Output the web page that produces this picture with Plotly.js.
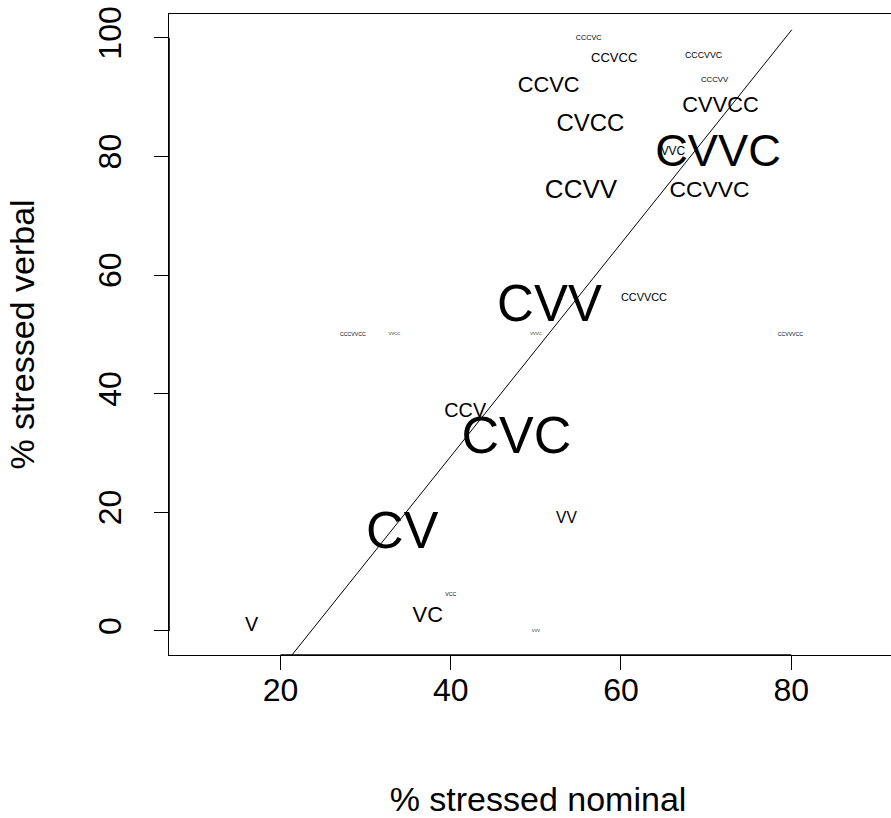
<!DOCTYPE html>
<html>
<head>
<meta charset="utf-8">
<script src="https://cdn.plot.ly/plotly-3.0.1.min.js"></script>
<style>
html,body{margin:0;padding:0;overflow:hidden;background:#fff;}
#chart{width:907px;height:818px;}
</style>
</head>
<body>
<div id="chart"></div>
<script>
// syllable structure labels
const labels = ["CCCVC","CCVCC","CCCVVC","CCCVV","CCVC","CVVCC","CVCC","CVVC","VVC","CCVV","CCVVC",
  "CVV","CCVVCC","CCCVVCC","VVCC","VVVC","CCVVVCC","CCV","CVC","VV","CV","VC","VCC","VVV","V"];
// % stressed nominal
const pctNominal = [56.2,59.2,69.7,71.0,51.5,71.7,56.4,71.4,66.1,55.3,70.4,
  51.6,62.7,28.5,33.4,50.0,79.9,41.7,47.7,53.6,34.3,37.3,40.0,50.0,16.6];
// % stressed verbal
const pctVerbal = [100.0,96.5,97.0,92.8,91.8,88.4,85.2,80.2,80.7,74.1,74.1,
  54.4,56.0,50.0,50.0,50.0,50.0,36.9,32.2,18.8,16.1,2.5,6.1,0.0,0.8];
// relative weight of each structure (drives label size)
const weight = [0.14,0.25,0.17,0.15,0.42,0.42,0.46,0.87,0.23,0.5,0.44,
  0.98,0.21,0.1,0.08,0.08,0.1,0.38,1.0,0.3,1.0,0.42,0.1,0.08,0.38];
// fitted line
const lineX = [20, 80.07];
const lineY = [-6.46, 101.35];

const xTicks = [20,40,60,80];
const yTicks = [0,20,40,60,80,100];

const FONT = "Liberation Sans, Arial, Helvetica, sans-serif";
const BASE = 52;

const traces = [
  {x: lineX, y: lineY, mode: "lines", line: {color: "#000", width: 1}, hoverinfo: "skip"},
  {x: pctNominal, y: pctVerbal, text: labels, mode: "text", textposition: "middle center",
   textfont: {family: FONT, color: "#000", size: weight.map(w => w * BASE)}, cliponaxis: false}
];

const layout = {
  width: 907, height: 818,
  margin: {l: 169, r: 0, t: 14, b: 163},
  showlegend: false,
  paper_bgcolor: "#fff", plot_bgcolor: "#fff",
  font: {family: FONT, color: "#000"},
  shapes: [
    {type: "line", xref: "x", yref: "paper", x0: xTicks[0], x1: xTicks[xTicks.length - 1], y0: 0, y1: 0,
     line: {color: "#000", width: 1.6}},
    {type: "line", xref: "paper", yref: "y", x0: 0, x1: 0, y0: yTicks[0], y1: yTicks[yTicks.length - 1],
     line: {color: "#000", width: 1.6}}
  ],
  xaxis: {
    range: [6.9, 93.6], tickvals: xTicks, ticktext: xTicks.map(String),
    ticks: "outside", ticklen: 14, tickwidth: 1, tickcolor: "#000",
    showline: true, mirror: true, linecolor: "#000", linewidth: 1,
    showgrid: false, zeroline: false, tickfont: {size: 32, family: FONT},
    ticklabelstandoff: -7,
    title: {text: "% stressed nominal", font: {size: 34, family: FONT}, standoff: 80}
  },
  yaxis: {
    range: [-4.05, 104.0], tickvals: yTicks, ticktext: yTicks.map(String),
    ticks: "outside", ticklen: 14, tickwidth: 1, tickcolor: "#000", tickangle: -90,
    showline: true, mirror: true, linecolor: "#000", linewidth: 1,
    showgrid: false, zeroline: false, tickfont: {size: 32, family: FONT},
    ticklabelstandoff: 20,
    title: {text: "% stressed verbal", font: {size: 34, family: FONT}, standoff: 47}
  }
};

Plotly.newPlot("chart", traces, layout, {displayModeBar: false, staticPlot: true});
</script>
</body>
</html>
